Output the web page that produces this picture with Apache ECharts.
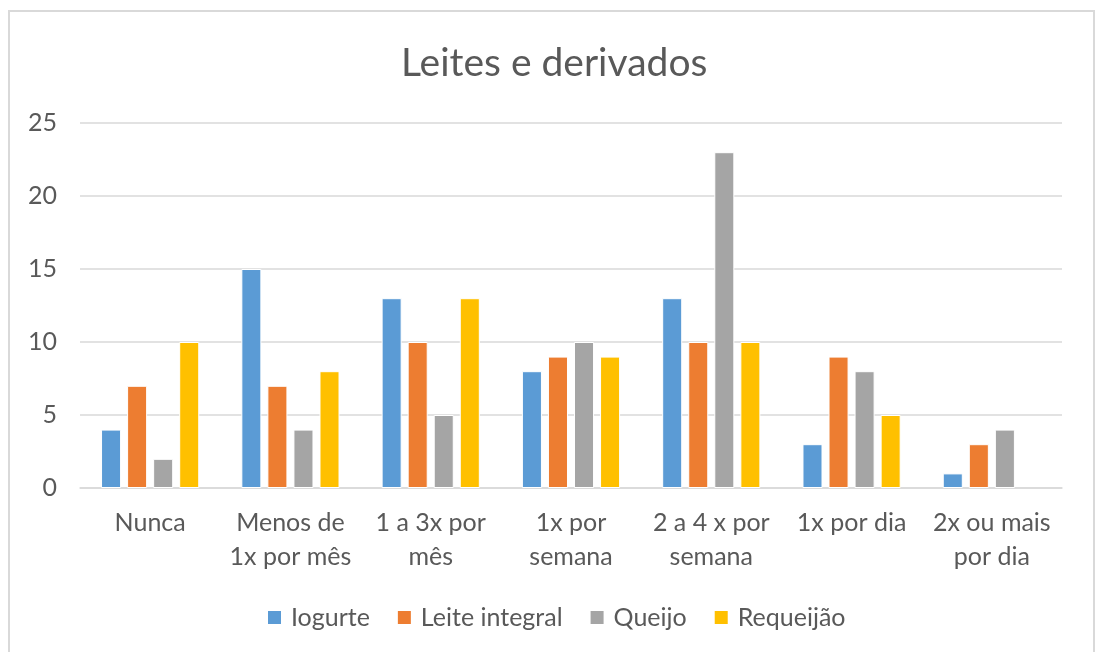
<!DOCTYPE html>
<html>
<head>
<meta charset="utf-8">
<script src="https://cdn.jsdelivr.net/npm/echarts@6/dist/echarts.min.js"></script>
<style>
html,body{margin:0;padding:0;background:#fff;}
#chart{width:1096px;height:652px;}
</style>
</head>
<body>
<div id="chart"></div>
<script>
var categories = ["Nunca", "Menos de\n1x por mês", "1 a 3x por\nmês", "1x por\nsemana", "2 a 4 x por\nsemana", "1x por dia", "2x ou mais\npor dia"];
var iogurte = [4, 15, 13, 8, 13, 3, 1];
var leiteIntegral = [7, 7, 10, 9, 10, 9, 3];
var queijo = [2, 4, 5, 10, 23, 8, 4];
var requeijao = [10, 8, 13, 9, 10, 5, null];
var seriesNames = ["Iogurte", "Leite integral", "Queijo", "Requeijão"];
var colors = ["#5B9BD5", "#ED7D31", "#A5A5A5", "#FFC000"];

var font = "Lato, 'Open Sans', sans-serif";
var chart = echarts.init(document.getElementById('chart'), null, {renderer: 'canvas'});
var dataSets = [iogurte, leiteIntegral, queijo, requeijao];
var series = dataSets.map(function (d, i) {
  return {
    name: seriesNames[i],
    type: 'bar',
    data: d,
    barGap: '30%',
    barCategoryGap: '30%',
    itemStyle: {color: colors[i], borderColor: '#ffffff', borderWidth: 1}
  };
});
chart.setOption({
  animation: false,
  backgroundColor: '#fff',
  color: colors,
  title: {
    text: 'Leites e derivados',
    left: 396,
    top: 39,
    textStyle: {fontFamily: font, fontSize: 39, fontWeight: 'normal', color: '#595959'}
  },
  graphic: [{
    type: 'rect',
    shape: {x: 9, y: 11, width: 1085, height: 660},
    style: {fill: 'none', stroke: '#d9d9d9', lineWidth: 2},
    silent: true
  }],
  legend: {
    data: seriesNames,
    top: 600,
    left: 261,
    icon: 'rect',
    itemWidth: 15,
    itemHeight: 15,
    itemGap: 26,
    textStyle: {fontFamily: font, fontSize: 25, color: '#595959', padding: [0, 0, 0, 4]}
  },
  grid: {left: 80, right: 34, top: 123, bottom: 164, containLabel: false},
  xAxis: {
    type: 'category',
    data: categories,
    axisLine: {lineStyle: {color: '#d9d9d9', width: 1.5}},
    axisTick: {show: false},
    axisLabel: {fontFamily: font, fontSize: 25, color: '#595959', margin: 18, lineHeight: 34, interval: 0}
  },
  yAxis: {
    type: 'value',
    min: 0,
    max: 25,
    interval: 5,
    axisLine: {show: false},
    axisTick: {show: false},
    splitLine: {lineStyle: {color: '#d9d9d9', width: 1.5}},
    axisLabel: {fontFamily: font, fontSize: 25, color: '#595959', margin: 23}
  },
  series: series
});
</script>
</body>
</html>
